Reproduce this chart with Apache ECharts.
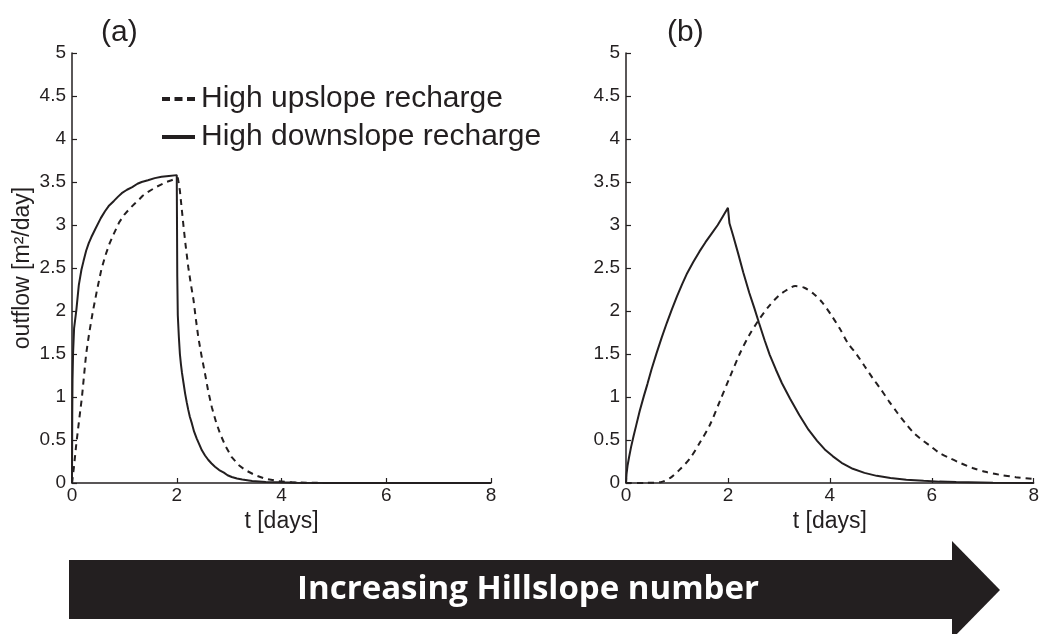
<!DOCTYPE html>
<html>
<head>
<meta charset="utf-8">
<script src="https://cdn.jsdelivr.net/npm/echarts@6/dist/echarts.min.js"></script>
<style>
  html, body { margin: 0; padding: 0; background: #fff; }
  #main { width: 1042px; height: 634px; }
</style>
</head>
<body>
<div id="main"></div>
<script>
// values, [t in days, outflow]
var aSolid = [
  [0, 0], [0.005, 0.8], [0.01, 1.2], [0.02, 1.5], [0.04, 1.8], [0.083, 2.01],
  [0.13, 2.3], [0.18, 2.48], [0.22, 2.58], [0.27, 2.7], [0.32, 2.79], [0.37, 2.86],
  [0.45, 2.96], [0.55, 3.08], [0.63, 3.16], [0.7, 3.22], [0.8, 3.28], [0.88, 3.33],
  [0.95, 3.37], [1.05, 3.41], [1.15, 3.44], [1.25, 3.48], [1.33, 3.5], [1.45, 3.52],
  [1.58, 3.545], [1.71, 3.56], [1.85, 3.57], [2.0, 3.58], [2.005, 3.0], [2.01, 2.4],
  [2.02, 1.95], [2.04, 1.7], [2.06, 1.5], [2.08, 1.38], [2.1, 1.28], [2.13, 1.16],
  [2.16, 1.04], [2.19, 0.94], [2.22, 0.85], [2.25, 0.77], [2.29, 0.69], [2.33, 0.6],
  [2.38, 0.52], [2.43, 0.45], [2.48, 0.38], [2.54, 0.32], [2.6, 0.27], [2.66, 0.23],
  [2.73, 0.19], [2.81, 0.15], [2.9, 0.12], [2.97, 0.09], [3.05, 0.07], [3.15, 0.052],
  [3.25, 0.04], [3.44, 0.023], [3.7, 0.013], [3.95, 0.008], [4.3, 0.003], [5, 0.001], [8, 0]
];
var aDash = [
  [0, 0], [0.04, 0.2], [0.083, 0.46], [0.13, 0.7], [0.19, 1.0], [0.23, 1.25],
  [0.27, 1.5], [0.33, 1.75], [0.4, 2.0], [0.48, 2.25], [0.56, 2.48], [0.64, 2.65],
  [0.72, 2.79], [0.8, 2.9], [0.9, 3.03], [1.0, 3.12], [1.1, 3.19], [1.2, 3.25],
  [1.27, 3.29], [1.35, 3.34], [1.44, 3.38], [1.52, 3.41], [1.6, 3.44], [1.7, 3.47],
  [1.8, 3.5], [1.9, 3.52], [2.02, 3.55], [2.06, 3.4], [2.1, 3.16], [2.13, 2.98],
  [2.17, 2.76], [2.22, 2.51], [2.27, 2.31], [2.32, 2.13], [2.36, 1.93], [2.41, 1.7],
  [2.47, 1.49], [2.54, 1.27], [2.6, 1.07], [2.67, 0.88], [2.75, 0.71], [2.83, 0.57],
  [2.93, 0.43], [3.05, 0.3], [3.18, 0.21], [3.31, 0.15], [3.5, 0.09], [3.69, 0.05],
  [3.95, 0.02], [4.2, 0.008], [4.6, 0.002], [5, 0], [8, 0]
];
var bSolid = [
  [0, 0], [0.01, 0.1], [0.03, 0.2], [0.06, 0.3], [0.1, 0.42], [0.15, 0.55],
  [0.2, 0.67], [0.27, 0.84], [0.35, 1.01], [0.42, 1.15], [0.5, 1.32], [0.6, 1.51],
  [0.7, 1.69], [0.8, 1.86], [0.9, 2.02], [1.0, 2.17], [1.1, 2.31], [1.2, 2.44],
  [1.32, 2.57], [1.44, 2.69], [1.56, 2.8], [1.68, 2.9], [1.8, 3.0], [1.9, 3.1],
  [2.0, 3.2], [2.03, 3.02], [2.1, 2.88], [2.2, 2.67], [2.3, 2.45], [2.42, 2.21],
  [2.52, 2.03], [2.61, 1.86], [2.72, 1.66], [2.82, 1.49], [2.94, 1.32], [3.06, 1.16],
  [3.22, 0.98], [3.4, 0.79], [3.58, 0.62], [3.75, 0.49], [3.9, 0.39], [4.06, 0.31],
  [4.23, 0.235], [4.45, 0.165], [4.68, 0.118], [4.92, 0.083], [5.19, 0.058],
  [5.5, 0.038], [5.84, 0.025], [6.15, 0.016], [6.48, 0.011], [7.2, 0.004], [8, 0.001]
];
var bDash = [
  [0, 0], [0.4, 0.002], [0.68, 0.01], [0.87, 0.06], [1.06, 0.16], [1.26, 0.29],
  [1.45, 0.47], [1.65, 0.68], [1.84, 0.95], [2.03, 1.22], [2.23, 1.5], [2.42, 1.72],
  [2.61, 1.9], [2.81, 2.06], [3.0, 2.18], [3.17, 2.25], [3.32, 2.29], [3.5, 2.27],
  [3.68, 2.2], [3.85, 2.1], [4.03, 1.95], [4.2, 1.79], [4.35, 1.63], [4.52, 1.5],
  [4.68, 1.36], [4.84, 1.22], [5.0, 1.09], [5.16, 0.95], [5.32, 0.82], [5.49, 0.69],
  [5.65, 0.58], [5.81, 0.5], [5.97, 0.43], [6.15, 0.35], [6.35, 0.29], [6.57, 0.23],
  [6.8, 0.175], [7.05, 0.13], [7.32, 0.097], [7.65, 0.068], [8, 0.047]
];
var nameDash = "High upslope recharge";
var nameSolid = "High downslope recharge";

var ink = "#231f20";
var font = "Liberation Sans";

function xAx(idx) {
  return {
    type: "value", gridIndex: idx, min: 0, max: 8, interval: 2,
    name: "t [days]", nameLocation: "middle", nameGap: 26,
    nameTextStyle: { color: ink, fontFamily: font, fontSize: 23 },
    axisLine: { lineStyle: { color: ink, width: 1.5 } },
    axisTick: { inside: true, length: 5, lineStyle: { color: ink, width: 1.2 } },
    axisLabel: { color: ink, fontFamily: font, fontSize: 19, margin: 3 },
    splitLine: { show: false }
  };
}
function yAx(idx, withName) {
  var ax = {
    type: "value", gridIndex: idx, min: 0, max: 5, interval: 0.5,
    axisLine: { show: true, lineStyle: { color: ink, width: 1.5 } },
    axisTick: { show: true, inside: true, length: 5, lineStyle: { color: ink, width: 1.2 } },
    axisLabel: { color: ink, fontFamily: font, fontSize: 19, margin: 6 },
    splitLine: { show: false }
  };
  if (withName) {
    ax.name = "outflow [m²/day]";
    ax.nameLocation = "middle";
    ax.nameGap = 38;
    ax.nameTextStyle = { color: ink, fontFamily: font, fontSize: 23 };
  }
  return ax;
}
function line(name, idx, data, dashed, smooth) {
  return {
    name: name, type: "line", xAxisIndex: idx, yAxisIndex: idx,
    data: data, showSymbol: false, symbol: "none", animation: false,
    smooth: smooth || false,
    lineStyle: { color: ink, width: 2, type: dashed ? [6, 5] : "solid" },
    itemStyle: { color: ink }
  };
}

var chart = echarts.init(document.getElementById("main"));
chart.setOption({
  backgroundColor: "#fff",
  animation: false,
  grid: [
    { left: 72, top: 53, width: 419, height: 430 },
    { left: 626, top: 53, width: 416, height: 430 }
  ],
  xAxis: [xAx(0), xAx(1)],
  yAxis: [yAx(0, true), yAx(1, false)],
  legend: {
    left: 157, top: 79, orient: "vertical", itemGap: 8,
    itemWidth: 33, itemHeight: 4,
    textStyle: { color: ink, fontFamily: font, fontSize: 30, padding: [0, 0, 0, 1] },
    selectedMode: false,
    data: [
      { name: nameDash, icon: "path://M0,0h8v4h-8z M12.5,0h8v4h-8z M25,0h8v4h-8z" },
      { name: nameSolid, icon: "rect" }
    ]
  },
  series: [
    line(nameDash, 0, aDash, true),
    line(nameSolid, 0, aSolid, false),
    line(nameDash, 1, bDash, true, 0.3),
    line(nameSolid, 1, bSolid, false)
  ],
  graphic: [
    { type: "text", left: 101, top: 18, style: { text: "(a)", fill: ink, font: "30px Liberation Sans" } },
    { type: "text", left: 667, top: 18, style: { text: "(b)", fill: ink, font: "30px Liberation Sans" } },
    { type: "rect", shape: { x: 69, y: 560, width: 884, height: 59 }, style: { fill: ink } },
    { type: "polygon", shape: { points: [[952, 541], [1000, 590], [952, 639]] }, style: { fill: ink } },
    {
      type: "text", x: 528, y: 590,
      style: {
        text: "Increasing Hillslope number", fill: "#fff",
        font: "bold 33px 'Open Sans'", textAlign: "center", textVerticalAlign: "middle"
      }
    }
  ]
});
</script>
</body>
</html>
